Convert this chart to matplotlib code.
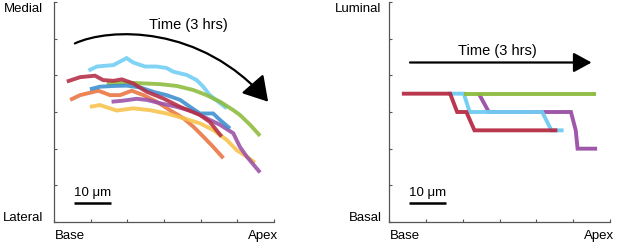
import matplotlib
matplotlib.use("Agg")
import matplotlib.pyplot as plt
from matplotlib.patches import FancyArrowPatch
from matplotlib.path import Path

plt.rcParams['font.family'] = ['Liberation Sans', 'DejaVu Sans']

# ---- left panel data (medial-lateral vs base-apex) ----
cyan_x = [0.94, 1.17, 1.62, 1.98, 2.16, 2.48, 2.80, 3.07, 3.25, 3.62, 3.89, 4.07, 4.25, 4.53, 4.71]
cyan_y = [4.13, 4.24, 4.28, 4.47, 4.35, 4.24, 4.24, 4.20, 4.10, 4.01, 3.87, 3.69, 3.46, 3.24, 3.10]
green_x = [1.44, 1.98, 2.44, 2.89, 3.35, 3.80, 4.16, 4.53, 4.89, 5.07, 5.35, 5.62]
green_y = [3.78, 3.80, 3.78, 3.76, 3.71, 3.60, 3.46, 3.28, 3.05, 2.92, 2.65, 2.35]
red_x = [0.35, 0.71, 1.12, 1.34, 1.62, 1.85, 2.16, 2.53, 2.98, 3.44, 3.98, 4.25, 4.57]
red_y = [3.83, 3.95, 3.99, 3.87, 3.85, 3.89, 3.78, 3.55, 3.37, 3.14, 2.92, 2.73, 2.33]
blue_x = [0.98, 1.25, 1.62, 1.98, 2.35, 2.71, 3.07, 3.44, 3.71, 3.98, 4.34, 4.53, 4.80]
blue_y = [3.62, 3.69, 3.71, 3.72, 3.67, 3.55, 3.46, 3.33, 3.14, 2.96, 2.96, 2.78, 2.55]
orange_x = [0.44, 0.71, 1.21, 1.53, 1.80, 2.12, 2.44, 2.80, 3.16, 3.53, 3.80, 4.07, 4.34, 4.62]
orange_y = [3.33, 3.46, 3.58, 3.46, 3.46, 3.58, 3.46, 3.28, 3.05, 2.83, 2.60, 2.33, 2.05, 1.74]
purple_x = [1.57, 1.89, 2.25, 2.53, 2.89, 3.35, 3.80, 4.16, 4.53, 4.89, 5.07, 5.26, 5.62]
purple_y = [3.28, 3.31, 3.36, 3.33, 3.24, 3.14, 3.01, 2.83, 2.65, 2.42, 2.05, 1.78, 1.35]
yellow_x = [0.98, 1.25, 1.71, 2.16, 2.62, 3.07, 3.53, 3.98, 4.34, 4.71, 4.98, 5.26, 5.48]
yellow_y = [3.14, 3.19, 3.04, 3.10, 3.05, 2.96, 2.83, 2.69, 2.51, 2.24, 1.96, 1.78, 1.62]

# ---- right panel data (luminal-basal vs base-apex) ----
r_red_x = [0.35, 1.66, 1.85, 2.10, 2.32, 4.57]
r_red_y = [3.5, 3.5, 3.0, 3.0, 2.5, 2.5]
r_cyan_x = [1.60, 2.03, 2.19, 4.16, 4.41, 4.74]
r_cyan_y = [3.5, 3.5, 3.0, 3.0, 2.5, 2.5]
r_purple_x = [2.44, 2.71, 4.94, 5.07, 5.12, 5.65]
r_purple_y = [3.5, 3.0, 3.0, 2.5, 2.0, 2.0]
r_green_x = [2.03, 5.62]
r_green_y = [3.5, 3.5]

ticks = [0, 1, 2, 3, 4, 5, 6]

C_CYAN = '#6fcdf3'
C_GREEN = '#8cbb3c'
C_RED = '#b52c45'
C_BLUE = '#3a8dcf'
C_ORANGE = '#e9733f'
C_PURPLE = '#9a4ea6'
C_YELLOW = '#f6c24a'

fig = plt.figure(figsize=(6.17, 2.45), dpi=100)
axL = fig.add_axes([54/617, 23/245, 220/617, 220/245])
axR = fig.add_axes([389/617, 23/245, 221/617, 220/245])

lw = 2.8
left_series = [
    (orange_x, orange_y, C_ORANGE),
    (yellow_x, yellow_y, C_YELLOW),
    (cyan_x, cyan_y, C_CYAN),
    (green_x, green_y, C_GREEN),
    (purple_x, purple_y, C_PURPLE),
    (blue_x, blue_y, C_BLUE),
    (red_x, red_y, C_RED),
]
for xs, ys, c in left_series:
    axL.plot(xs, ys, color=c, lw=lw, alpha=0.88, solid_capstyle='butt', solid_joinstyle='miter')

right_series = [
    (r_purple_x, r_purple_y, C_PURPLE),
    (r_cyan_x, r_cyan_y, C_CYAN),
    (r_red_x, r_red_y, C_RED),
    (r_green_x, r_green_y, C_GREEN),
]
for xs, ys, c in right_series:
    axR.plot(xs, ys, color=c, lw=lw, alpha=0.95, solid_capstyle='butt', solid_joinstyle='miter')

for ax in (axL, axR):
    ax.set_xlim(0, 6)
    ax.set_ylim(0, 6)
    ax.set_xticks(ticks)
    ax.set_yticks(ticks)
    ax.set_xticklabels([])
    ax.set_yticklabels([])
    ax.tick_params(direction='in', length=2.5, width=0.8, color='#555555')
    for s in ('top', 'right'):
        ax.spines[s].set_visible(False)
    for s in ('left', 'bottom'):
        ax.spines[s].set_color('#555555')
        ax.spines[s].set_linewidth(0.9)
    ax.patch.set_alpha(0)
    # scale bar
    ax.plot([0.55, 1.55], [0.53, 0.53], color='black', lw=1.8, solid_capstyle='butt')
    ax.text(1.05, 0.62, '10 μm', ha='center', va='bottom', fontsize=9.5)
    ax.text(0.005, -0.035, 'Base', transform=ax.transAxes, ha='left', va='top', fontsize=9.5)
    ax.text(1.02, -0.035, 'Apex', transform=ax.transAxes, ha='right', va='top', fontsize=9.5)

axL.text(-0.05, 0.97, 'Medial', transform=axL.transAxes, ha='right', va='center', fontsize=9.5)
axL.text(-0.05, 0.018, 'Lateral', transform=axL.transAxes, ha='right', va='center', fontsize=9.5)
axR.text(-0.033, 0.97, 'Luminal', transform=axR.transAxes, ha='right', va='center', fontsize=9.5)
axR.text(-0.033, 0.018, 'Basal', transform=axR.transAxes, ha='right', va='center', fontsize=9.5)

# curved time arrow (left)
verts = [(0.57, 4.87), (1.5, 5.3), (4.0, 5.4), (5.84, 3.28)]
codes = [Path.MOVETO, Path.CURVE4, Path.CURVE4, Path.CURVE4]
arrL = FancyArrowPatch(path=Path(verts, codes),
                       arrowstyle='-|>,head_length=1.5,head_width=0.9',
                       mutation_scale=10, lw=1.6, color='black', clip_on=False)
axL.add_patch(arrL)
axL.text(3.66, 5.37, 'Time (3 hrs)', ha='center', va='center', fontsize=10.5)

# straight time arrow (right)
arrR = FancyArrowPatch((0.57, 4.35), (5.5, 4.35),
                       arrowstyle='-|>,head_length=1.1,head_width=0.6',
                       mutation_scale=10, lw=1.6, color='black', shrinkA=0, shrinkB=0,
                       clip_on=False)
axR.add_patch(arrR)
axR.text(2.94, 4.67, 'Time (3 hrs)', ha='center', va='center', fontsize=10.5)

fig.savefig('out.png', dpi=100)
